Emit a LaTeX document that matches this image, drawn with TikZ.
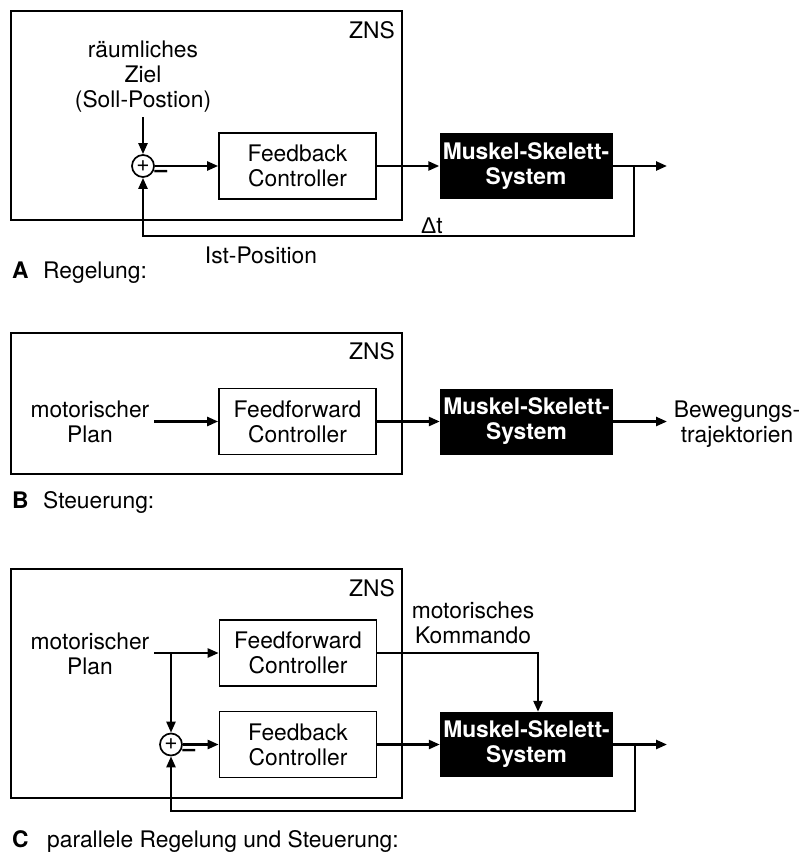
\documentclass[tikz,border=0pt]{standalone}
\usepackage{fontspec}
\setmainfont{TeX Gyre Heros}
\newfontfamily\grkfont{Liberation Sans}
\usetikzlibrary{arrows.meta,calc}
\begin{document}
\begin{tikzpicture}[x=1pt,y=-1pt,
  every node/.style={inner sep=0pt, font=\fontsize{22.8}{25}\selectfont},
  zns/.style={draw, line width=1.7pt, minimum width=391pt},
  ctrl/.style={draw, line width=1.7pt, fill=white, minimum width=157pt, minimum height=66pt, align=center},
  plant/.style={fill=black, text=white, font=\fontsize{22.8}{25}\selectfont\bfseries, minimum width=173pt, minimum height=66pt, align=center},
  sumnode/.style={circle, draw, line width=1.7pt, minimum size=22pt},
  conn/.style={line width=2.4pt, -{Triangle[length=11pt,width=9pt]}},
  txt/.style={align=center},
  lab/.style={anchor=base west},
  labbold/.style={anchor=base west, font=\fontsize{22.8}{25}\selectfont\bfseries},
]
\useasboundingbox (0,0) rectangle (804,852);

% ---------------- Panel A ----------------
\node[zns, minimum height=209pt] (znsA) at (206.5,115.5) {};
\node[anchor=east] (znsAlab) at (395,30) {ZNS};
\node[txt] (zielA) at (143,77) {räumliches\\Ziel\\(Soll-Postion)};
\node[sumnode] (sumA) at (143,166) {+};
\node (minA) at (161,174) {\textbf{–}};
\node[ctrl] (fbA) at (297.5,166) {Feedback\\Controller};
\node[plant] (msA) at (526,166) {Muskel-Skelett-\\System};
\node (dtA) at (432,226) {{\grkfont Δ}t};
\node (istA) at (261,255) {Ist-Position};
\node[labbold] (labA) at (12,278) {A};
\node[lab] (labAt) at (43,278) {Regelung:};
\coordinate (zielAend) at (143,117);
\coordinate (outA) at (667,166);
\coordinate (brA) at (634,166);
\coordinate (retA) at (634,236);
\draw[conn] (zielAend) -- (sumA.north);
\draw[conn] (sumA.east) -- (fbA.west);
\draw[conn] (fbA.east) -- (msA.west);
\draw[conn] (msA.east) -- (outA);
\draw[conn] (brA) -- (retA) -| (sumA.south);

% ---------------- Panel B ----------------
\node[zns, minimum height=141pt] (znsB) at (206.5,403.5) {};
\node[anchor=east] (znsBlab) at (395,351.5) {ZNS};
\node[txt] (planB) at (90,421.5) {motorischer\\Plan};
\node[ctrl] (ffB) at (297.5,421.5) {Feedforward\\Controller};
\node[plant] (msB) at (526.5,421.5) {Muskel-Skelett-\\System};
\node[txt] (bewB) at (737,424.5) {Bewegungs-\\trajektorien};
\node[labbold] (labB) at (12,508) {B};
\node[lab] (labBt) at (43,508) {Steuerung:};
\coordinate (planBend) at (154,421.5);
\coordinate (outB) at (667,421.5);
\draw[conn] (planBend) -- (ffB.west);
\draw[conn] (ffB.east) -- (msB.west);
\draw[conn] (msB.east) -- (outB);

% ---------------- Panel C ----------------
\node[zns, minimum height=229pt] (znsC) at (206.5,683.5) {};
\node[anchor=east] (znsClab) at (395,588.5) {ZNS};
\node[txt] (planC) at (90,654) {motorischer\\Plan};
\node[ctrl] (ffC) at (298,653) {Feedforward\\Controller};
\node[ctrl] (fbC) at (298,744.5) {Feedback\\Controller};
\node[sumnode] (sumC) at (171,744.5) {+};
\node (minC) at (189,752.5) {\textbf{–}};
\node[plant, minimum height=65pt] (msC) at (526.5,744.5) {Muskel-Skelett-\\System};
\node[txt] (kmdC) at (473,622.5) {motorisches\\Kommando};
\node[labbold] (labC) at (12,847) {C};
\node[lab] (labCt) at (47,847) {parallele Regelung und Steuerung:};
\coordinate (planCend) at (154,653);
\coordinate (splitC) at (171,653);
\coordinate (kmdCc) at (538,653);
\coordinate (outC) at (667,744.5);
\coordinate (brC) at (635,744.5);
\coordinate (retC) at (635,811);
\draw[conn] (planCend) -- (ffC.west);
\draw[conn] (splitC) -- (sumC.north);
\draw[conn] (sumC.east) -- (fbC.west);
\draw[conn] (ffC.east) -- (kmdCc) -- (kmdCc |- msC.north);
\draw[conn] (fbC.east) -- (msC.west);
\draw[conn] (msC.east) -- (outC);
\draw[conn] (brC) -- (retC) -| (sumC.south);
\end{tikzpicture}
\end{document}
